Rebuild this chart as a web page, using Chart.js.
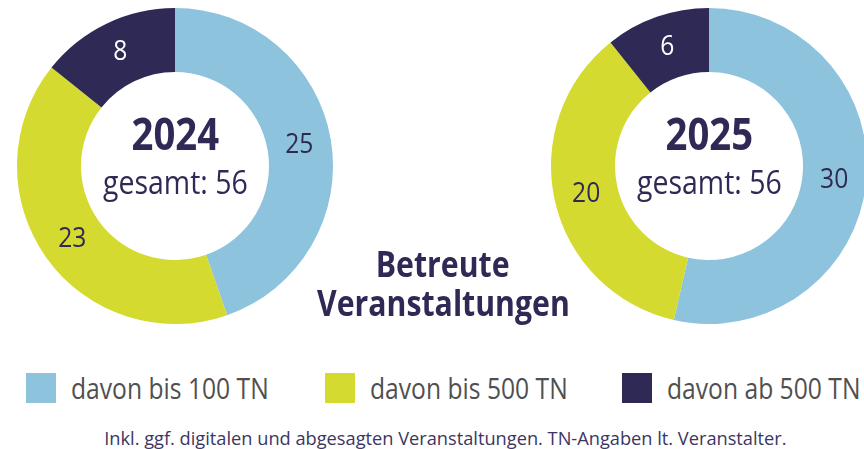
<!DOCTYPE html>
<html lang="de">
<head>
<meta charset="utf-8">
<script src="https://cdn.jsdelivr.net/npm/chart.js@4/dist/chart.umd.min.js"></script>
<style>
    html, body { margin: 0; padding: 0; background: #fff; overflow: hidden; width: 864px; height: 449px; }
    body { position: relative; font-family: "Open Sans", sans-serif; }
    canvas { position: absolute; }
    #chart-2024 { left: 17px; top: 8px; }
    #chart-2025 { left: 551px; top: 8px; }
    /* no condensed face installed, so squeeze the text horizontally */
    .sq { display: inline-block; white-space: nowrap; transform: scaleX(var(--s)); transform-origin: center center; }
    .center { position: absolute; width: 240px; text-align: center; color: #2f2955; }
    .center .year { font-weight: bold; font-size: 44px; line-height: 44px; }
    .center .total { font-size: 32px; line-height: 32px; margin-top: 11px; }
    #title { position: absolute; left: 243px; top: 244px; width: 400px; text-align: center; color: #2f2955; font-weight: bold; font-size: 36px; line-height: 39px; }
    .legend-item { position: absolute; top: 373px; height: 30px; display: flex; align-items: center; white-space: nowrap; }
    .legend-item .box { width: 30px; height: 30px; margin-right: 15px; flex: none; }
    .legend-item .sq { font-size: 29px; color: #505050; line-height: 30px; transform-origin: left center; }
    #note { position: absolute; left: 0; width: 890px; top: 425px; text-align: center; font-size: 18.5px; color: #3b3662; }
</style>
</head>
<body>
<canvas id="chart-2024" width="316" height="316"></canvas>
<canvas id="chart-2025" width="316" height="316"></canvas>

<div class="center" style="left: 55px; top: 111px;">
    <div class="year"><span class="sq" style="--s:0.87">2024</span></div>
    <div class="total"><span class="sq" style="--s:0.89" id="total-2024"></span></div>
</div>
<div class="center" style="left: 589px; top: 111px;">
    <div class="year"><span class="sq" style="--s:0.87">2025</span></div>
    <div class="total"><span class="sq" style="--s:0.89" id="total-2025"></span></div>
</div>

<div id="title"><span class="sq" style="--s:0.84">Betreute</span><br><span class="sq" style="--s:0.84">Veranstaltungen</span></div>

<div id="legend"></div>
<div id="note"><span class="sq" style="--s:0.985">Inkl. ggf. digitalen und abgesagten Veranstaltungen. TN-Angaben lt. Veranstalter.</span></div>

<script>
const categories = ['davon bis 100 TN', 'davon bis 500 TN', 'davon ab 500 TN'];
const values2024 = [25, 23, 8];
const values2025 = [30, 20, 6];
const colors = ['#8ec3de', '#d4da2f', '#2f2955'];
const labelColors = ['#2f2955', '#2f2955', '#ffffff'];
const legendLeft = [26, 325, 622];

// draws the numbers in the middle of each ring segment
const segmentLabels = {
    id: 'segmentLabels',
    afterDatasetsDraw(chart) {
        const ctx = chart.ctx;
        const meta = chart.getDatasetMeta(0);
        const data = chart.data.datasets[0].data;
        meta.data.forEach((arc, i) => {
            const pos = arc.tooltipPosition();
            ctx.save();
            ctx.translate(pos.x, pos.y);
            ctx.scale(0.88, 1);
            ctx.font = '28px "Open Sans", sans-serif';
            ctx.textAlign = 'center';
            ctx.textBaseline = 'middle';
            ctx.fillStyle = labelColors[i];
            ctx.fillText(String(data[i]), 0, 0);
            ctx.restore();
        });
    }
};

const makeDonut = (id, values) => {
    const ctx = document.getElementById(id).getContext('2d');
    return new Chart(ctx, {
        type: 'doughnut',
        data: {
            labels: categories,
            datasets: [{
                data: values,
                backgroundColor: colors,
                borderWidth: 0,
                hoverOffset: 0,
                offset: 0
            }]
        },
        options: {
            responsive: false,
            maintainAspectRatio: false,
            animation: false,
            cutout: '59.5%',
            layout: { padding: 0 },
            events: [],
            plugins: {
                legend: { display: false },
                tooltip: { enabled: false }
            }
        },
        plugins: [segmentLabels]
    });
};

makeDonut('chart-2024', values2024);
makeDonut('chart-2025', values2025);

const sum = arr => arr.reduce((a, b) => a + b, 0);
document.getElementById('total-2024').textContent = 'gesamt: ' + sum(values2024);
document.getElementById('total-2025').textContent = 'gesamt: ' + sum(values2025);

const legend = document.getElementById('legend');
categories.forEach((cat, i) => {
    const item = document.createElement('div');
    item.className = 'legend-item';
    item.style.left = legendLeft[i] + 'px';
    item.innerHTML = `<div class="box" style="background:${colors[i]}"></div><span class="sq" style="--s:0.85">${cat}</span>`;
    legend.appendChild(item);
});
</script>
</body>
</html>
